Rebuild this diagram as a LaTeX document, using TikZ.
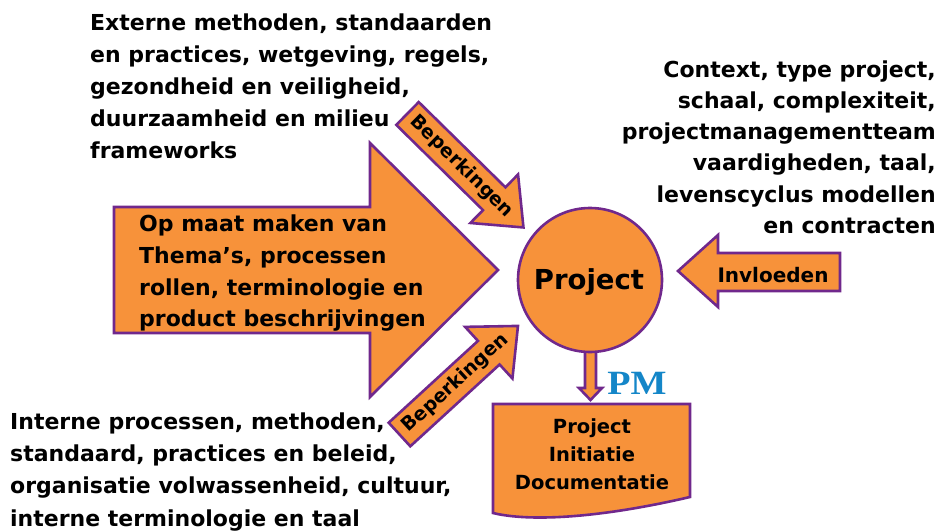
\documentclass[tikz,border=0pt]{standalone}
\usepackage{fontspec}
\setmainfont{DejaVu Sans}
\newfontfamily\pmfont{Liberation Serif}
\definecolor{orfill}{RGB}{247,146,58}
\definecolor{purp}{RGB}{112,40,140}
\definecolor{pmblue}{RGB}{20,134,200}
\begin{document}
\begin{tikzpicture}[x=1pt,y=-1pt,
  blockarrow/.style={fill=orfill,draw=purp,line width=2.6pt,line join=miter},
  bodytext/.style={inner sep=0pt,font=\bfseries\fontsize{22}{31.6}\selectfont},
  arrowlabel/.style={inner sep=0pt,font=\bfseries\fontsize{19}{21}\selectfont}]
\useasboundingbox (0,0) rectangle (940,532);
% big arrow
\draw[blockarrow] (114,207) -- (370,207) -- (370,143) -- (498,270) -- (370,397) -- (370,333) -- (114,333) -- cycle;
\node[bodytext,anchor=north west,align=left] (tailor) at (139,215)
  {Op maat maken van\\Thema’s, processen\\rollen, terminologie en\\product beschrijvingen};
% upper Beperkingen arrow
\begin{scope}[shift={(407.5,113.5)},rotate=-44.5]
\draw[blockarrow] (0,-16) -- (121.6,-16) -- (121.6,-34) -- (162.6,0) -- (121.6,34) -- (121.6,16) -- (0,16) -- cycle;
\node[arrowlabel,rotate=-44.5] (bep1) at (76,0) {Beperkingen};
\end{scope}
% lower Beperkingen arrow
\begin{scope}[shift={(399.5,434.5)},rotate=42.5]
\draw[blockarrow] (0,-16) -- (121.1,-16) -- (121.1,-35) -- (160.7,0) -- (121.1,35) -- (121.1,16) -- (0,16) -- cycle;
\node[arrowlabel,rotate=42.5] (bep2) at (76,0) {Beperkingen};
\end{scope}
% Invloeden arrow
\draw[blockarrow] (840,253) -- (718,253) -- (718,235) -- (678,271) -- (718,307) -- (718,291) -- (840,291) -- cycle;
\node[inner sep=0pt,anchor=base,font=\bfseries\fontsize{20}{22}\selectfont] (invl) at (773,282) {Invloeden};
% down arrow
\draw[blockarrow] (585,345) -- (585,388) -- (579,388) -- (590.5,400) -- (602,388) -- (596,388) -- (596,345) -- cycle;
% project circle
\node[circle,fill=orfill,draw=purp,line width=2.6pt,minimum size=144pt,inner sep=0pt] (proj) at (590,280) {};
\node[inner sep=0pt,anchor=base,font=\bfseries\fontsize{27.5}{30}\selectfont] (projtxt) at (589,289) {Project};
% PM
\node[inner sep=0pt,anchor=base,text=pmblue,font=\pmfont\bfseries\fontsize{34}{36}\selectfont,xscale=1.12] (pm) at (637,394) {PM};
% document
\draw[blockarrow] (493,404) -- (690,404) -- (690,497) .. controls (600,518) and (530,522) .. (493,513) -- cycle;
\node[inner sep=0pt,anchor=north,align=center,font=\bfseries\fontsize{19.5}{28}\selectfont] (doc) at (592,418.5)
  {Project\\Initiatie\\Documentatie};
% texts
\node[bodytext,anchor=north west,align=left,font=\bfseries\fontsize{22}{31.8}\selectfont] (extern) at (90,14)
  {Externe methoden, standaarden\\en practices, wetgeving, regels,\\gezondheid en veiligheid,\\duurzaamheid en milieu\\frameworks};
\node[bodytext,anchor=north east,align=right,font=\bfseries\fontsize{22}{31.2}\selectfont] (context) at (936,60.3)
  {Context, type project,\\schaal, complexiteit,\\projectmanagementteam\\vaardigheden, taal,\\levenscyclus modellen\\en contracten};
\node[bodytext,anchor=north west,align=left,font=\bfseries\fontsize{22}{32.3}\selectfont] (intern) at (10,412.3)
  {Interne processen, methoden,\\standaard, practices en beleid,\\organisatie volwassenheid, cultuur,\\interne terminologie en taal};
\end{tikzpicture}
\end{document}
